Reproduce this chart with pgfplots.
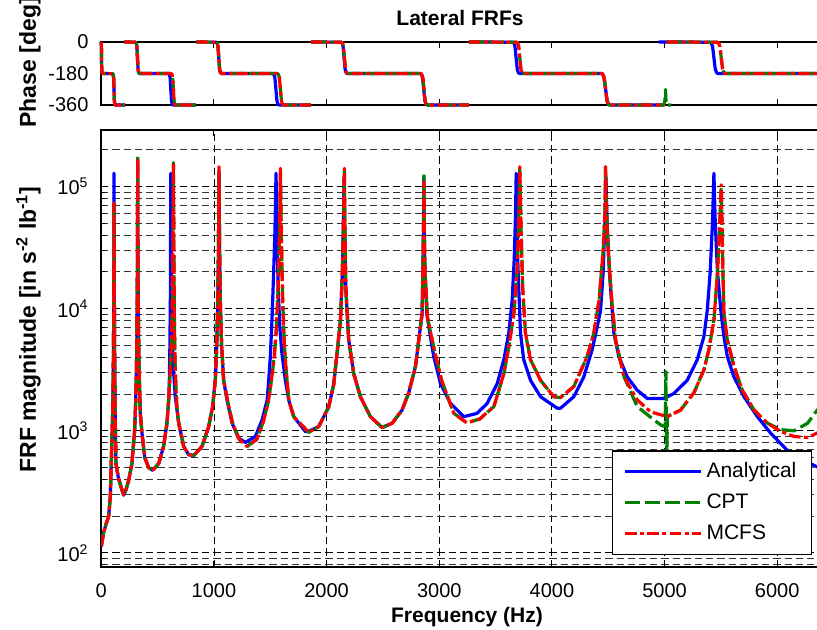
\documentclass[border=0pt]{standalone}
\usepackage{fontspec}
\setmainfont{Liberation Sans}
\usepackage{pgfplots}
\pgfplotsset{compat=1.18}
\definecolor{mgreen}{rgb}{0,0.5,0}
\pgfplotsset{
  analytical/.style={blue, line width=1.6pt, line join=round, solid},
  cpt/.style={mgreen, line width=1.6pt, line join=round, dash pattern=on 7.5pt off 2.5pt},
  mcfs/.style={red, line width=1.6pt, line join=round, dash pattern=on 5.8pt off 1.7pt on 2pt off 1.7pt},
  every axis/.append style={
    scale only axis, width=363.3pt, xmin=0, xmax=6450,
    tick align=inside,
    axis line style={line width=0.9pt},
    every tick/.style={black, line width=0.5pt},
    major tick length=3pt, minor tick length=1.8pt,
    tick label style={font=\fontsize{10}{12}\selectfont},
    yticklabel style={xshift=-2.9pt},
    xlabel style={font=\bfseries\fontsize{10.5}{12.6}\selectfont},
    ylabel style={font=\bfseries\fontsize{11.5}{13.8}\selectfont, inner sep=0pt},
    title style={font=\bfseries\fontsize{10.5}{12.6}\selectfont},
  },
}
\begin{document}
\begin{tikzpicture}
% ---------------- magnitude ----------------
\begin{axis}[
  at={(0,0)}, anchor=south west, height=218.35pt,
  ymode=log, ymin=77, ymax=291000,
  xtick={0,1000,2000,3000,4000,5000,6000},
  xticklabels={0,1000,2000,3000,4000,5000,6000},
  xticklabel style={yshift=-5pt},
  ytick={100,1000,10000,100000},
  yticklabels={10\textsuperscript{2},10\textsuperscript{3},10\textsuperscript{4},10\textsuperscript{5}},
  minor ytick={80,90,200,300,400,500,600,700,800,900,2000,3000,4000,5000,6000,7000,8000,9000,20000,30000,40000,50000,60000,70000,80000,90000,200000},
  xmajorgrids, ymajorgrids, yminorgrids,
  major grid style={black, line width=0.45pt, dash pattern=on 3.6pt off 2pt},
  minor grid style={black!80, line width=0.45pt, dash pattern=on 3.6pt off 2pt},
  xlabel={Frequency (Hz)},
  xlabel style={at={(axis description cs:0.5033,0)}, anchor=base, yshift=-27.8pt},
  ylabel={FRF magnitude [in s\textsuperscript{-2} lb\textsuperscript{-1}]},
  ylabel style={at={(axis description cs:-0.0899,0.2146)}, anchor=base west},
  legend style={at={(axis description cs:0.9781,0.0268)}, anchor=south east,
    draw=black, line width=0.6pt, fill=white, inner xsep=5.5pt, inner ysep=3.6pt,
    row sep=2pt, nodes={inner sep=2pt, text depth=0.2em, text height=0.75em},
    font=\fontsize{10.5}{12.6}\selectfont},
  legend cell align=left,
  legend image code/.code={\draw[#1] (0pt,0pt) -- (38pt,0pt);},
]
\addplot[analytical] coordinates {
(0,113) (20,146) (45,175) (65,198) (80,289) (89,571) (100,1300) (106,2800) (109,6000) (111,15000) (112,40000) (113,128500) (114,45000) (116,12000) (119,3500) (123,1400) (130,537) (150,420) (170,360) (198,297) (220,330) (243,394) (272,537) (296,1018) (305,1700) (312,3200) (317,7000) (320,18000) (322,60000) (323,150000) (324,60000) (326,20000) (330,7000) (336,3000) (346,1396) (361,960) (385,608) (420,499) (456,475) (509,537) (553,745) (583,1154) (598,1780) (604,2600) (609,5000) (613,12000) (615,40000) (617,128500) (619,40000) (623,12000) (630,5500) (640,3200) (657,1893) (687,1154) (731,745) (775,638) (820,626) (894,745) (953,1082) (988,1574) (1012,2590) (1025,5000) (1033,10000) (1039,25000) (1043,70000) (1045,130000) (1047,70000) (1051,25000) (1058,10000) (1068,5000) (1086,2590) (1116,1780) (1161,1154) (1219,871) (1279,803) (1368,898) (1427,1226) (1472,1780) (1486,2590) (1500,4000) (1515,8000) (1530,20000) (1542,45000) (1551,128500) (1560,40000) (1570,15000) (1585,7000) (1602,4400) (1634,2590) (1664,1780) (1708,1304) (1812,986) (1841,990) (1930,1082) (2019,1574) (2063,2400) (2093,4340) (2123,8050) (2140,20000) (2150,60000) (2155,120000) (2160,50000) (2170,15000) (2196,5545) (2241,2930) (2300,1900) (2389,1304) (2493,1062) (2582,1154) (2670,1478) (2729,2050) (2789,3370) (2818,5545) (2848,9140) (2856,25000) (2861,60000) (2863,120000) (2866,50000) (2872,20000) (2890,9000) (2920,6000) (2951,4060) (3011,2430) (3099,1675) (3218,1304) (3336,1390) (3425,1675) (3514,2430) (3573,3815) (3617,6300) (3647,11700) (3665,25000) (3677,60000) (3683,128500) (3690,45000) (3700,20000) (3721,6300) (3750,3815) (3810,2590) (3899,1900) (4047,1530) (4076,1530) (4194,1900) (4283,2760) (4357,4600) (4402,7110) (4432,9700) (4455,20000) (4470,50000) (4480,120000) (4490,50000) (4510,20000) (4550,6300) (4594,4060) (4669,2760) (4757,2150) (4846,1840) (4900,1840) (4994,1840) (5083,2020) (5201,2590) (5290,3815) (5349,5900) (5379,9700) (5405,20000) (5425,50000) (5438,128500) (5450,50000) (5470,20000) (5500,9500) (5527,5900) (5557,4060) (5616,2760) (5705,1900) (5824,1304) (5942,955) (6090,690) (6237,572) (6356,505) (6450,460)
};
\addplot[cpt] coordinates {
(0,113) (20,146) (45,175) (65,198) (80,289) (89,571) (100,1300) (106,2800) (109,6000) (111,15000) (112,35000) (113,73000) (114,35000) (116,12000) (119,3500) (123,1400) (130,537) (150,420) (170,360) (198,297) (220,330) (243,394) (272,537) (296,1018) (305,1700) (312,3200) (317,7000) (320,18000) (322,60000) (323,181000) (324,60000) (326,20000) (330,7000) (336,3000) (346,1396) (361,960) (385,608) (420,499) (456,475) (509,537) (553,745) (583,1154) (598,1780) (610,2800) (622,5000) (630,10000) (636,35000) (640,157000) (644,35000) (648,10000) (652,5000) (657,3000) (670,1600) (687,1154) (731,745) (775,638) (820,626) (894,745) (953,1082) (988,1574) (1012,2590) (1025,5000) (1033,10000) (1039,25000) (1043,70000) (1045,140000) (1047,70000) (1051,25000) (1058,10000) (1068,5000) (1086,2590) (1120,1780) (1165,1154) (1225,850) (1294,745) (1380,850) (1440,1200) (1485,1780) (1510,2590) (1535,4000) (1555,7000) (1570,15000) (1582,40000) (1590,135000) (1598,40000) (1610,12000) (1625,5000) (1640,3200) (1664,1780) (1708,1304) (1841,970) (1930,1082) (2019,1574) (2063,2400) (2093,4340) (2123,8050) (2140,20000) (2152,60000) (2158,135000) (2162,50000) (2170,15000) (2196,5545) (2241,2930) (2300,1900) (2389,1304) (2493,1062) (2582,1154) (2670,1478) (2729,2050) (2789,3370) (2818,5545) (2848,9140) (2856,25000) (2861,50000) (2864,128500) (2867,45000) (2874,20000) (2895,8500) (2960,4400) (3020,2600) (3129,1390) (3245,1160) (3360,1250) (3485,1580) (3573,2930) (3617,4850) (3662,9040) (3690,20000) (3705,50000) (3715,140000) (3725,50000) (3740,15000) (3765,6300) (3810,3815) (3899,2590) (4017,1900) (4076,1870) (4194,2300) (4313,4060) (4372,6300) (4420,12000) (4455,30000) (4470,60000) (4476,145500) (4485,60000) (4500,30000) (4530,12000) (4565,5545) (4641,2760) (4757,1580) (4905,1230) (4964,1120) (4990,1090) (5005,1100) (5012,3050) (5016,1200) (5020,420) (5024,1300) (5040,1330) (5142,1478) (5261,2050) (5349,3150) (5393,4600) (5438,8050) (5470,20000) (5490,50000) (5503,100000) (5510,50000) (5518,20000) (5527,9140) (5557,5545) (5616,3370) (5690,2150) (5794,1478) (5913,1154) (6032,1020) (6150,1000) (6268,1150) (6356,1480) (6450,1900)
};
\addplot[mcfs] coordinates {
(0,113) (20,146) (45,175) (65,198) (80,289) (89,571) (100,1300) (106,2800) (109,6000) (111,15000) (112,35000) (113,73500) (114,35000) (116,12000) (119,3500) (123,1400) (130,537) (150,420) (170,360) (198,297) (220,330) (243,394) (272,537) (296,1018) (305,1700) (312,3200) (317,7000) (320,18000) (322,60000) (323,172000) (324,60000) (326,20000) (330,7000) (336,3000) (346,1396) (361,960) (385,608) (420,499) (456,475) (509,537) (553,745) (583,1154) (598,1780) (610,2800) (622,5000) (630,10000) (636,35000) (640,157000) (644,35000) (648,10000) (652,5000) (657,3000) (670,1600) (687,1154) (731,745) (775,638) (820,626) (894,745) (953,1082) (988,1574) (1012,2590) (1025,5000) (1033,10000) (1039,25000) (1043,70000) (1045,145500) (1047,70000) (1051,25000) (1058,10000) (1068,5000) (1086,2590) (1120,1780) (1165,1154) (1225,850) (1294,745) (1380,850) (1440,1200) (1485,1780) (1510,2590) (1535,4000) (1555,7000) (1570,15000) (1582,40000) (1590,141000) (1598,40000) (1610,12000) (1625,5000) (1640,3200) (1664,1780) (1708,1304) (1841,970) (1930,1082) (2019,1574) (2063,2400) (2093,4340) (2123,8050) (2140,20000) (2152,60000) (2158,141000) (2162,50000) (2170,15000) (2196,5545) (2241,2930) (2300,1900) (2389,1304) (2493,1062) (2582,1154) (2670,1478) (2729,2050) (2789,3370) (2818,5545) (2848,9140) (2856,25000) (2861,50000) (2864,110000) (2867,45000) (2874,20000) (2895,8500) (2960,4400) (3020,2600) (3129,1390) (3245,1160) (3360,1250) (3485,1580) (3573,2930) (3617,4850) (3662,9040) (3690,20000) (3705,50000) (3715,145500) (3725,50000) (3740,15000) (3765,6300) (3810,3815) (3899,2590) (4017,1900) (4076,1870) (4194,2300) (4313,4060) (4372,6300) (4420,12000) (4455,30000) (4470,60000) (4476,145500) (4485,60000) (4500,30000) (4530,12000) (4565,5545) (4641,2760) (4757,1790) (4876,1430) (5024,1304) (5142,1478) (5261,2050) (5349,3150) (5393,4600) (5438,8050) (5470,20000) (5490,50000) (5503,103500) (5510,50000) (5518,20000) (5527,9140) (5557,5545) (5616,3370) (5690,2150) (5794,1478) (5913,1154) (6032,986) (6150,898) (6268,880) (6356,960) (6450,1050)
};
\legend{Analytical,CPT,MCFS}
\end{axis}
% ---------------- phase ----------------
\begin{axis}[
  at={(0,230.85pt)}, anchor=south west, height=31.5pt,
  ymin=-360, ymax=0, clip=false, unbounded coords=jump,
  xtick={0,1000,2000,3000,4000,5000,6000}, xticklabels={},
  ytick={-360,-180,0}, yticklabels={-360,-180,0},
  title={Lateral FRFs},
  title style={at={(axis description cs:0.4937,1)}, anchor=base, yshift=2.5pt},
  ylabel={Phase [deg]},
  ylabel style={at={(axis description cs:-0.0899,-0.365)}, anchor=base west},
]
\addplot[analytical] coordinates {
(0,0) (1,-40) (3,-140) (6,-175) (15,-180) (100,-181) (106,-186) (110,-210) (113,-270) (116,-335) (120,-357) (128,-360) (212,-360) (212,nan)
(204,0) (300,-1) (310,-5) (316,-25) (321,-90) (326,-155) (332,-176) (342,-180) (595,-180) (605,-184) (611,-205) (617,-270) (623,-335) (629,-356) (640,-360) (840,-360) (840,nan)
(844,0) (1018,-1) (1028,-5) (1036,-25) (1043,-90) (1050,-155) (1058,-176) (1068,-180) (1520,-180) (1532,-184) (1541,-205) (1550,-270) (1559,-335) (1568,-356) (1580,-360) (1860,-360) (1860,nan)
(1862,0) (2125,-1) (2137,-5) (2146,-25) (2155,-90) (2164,-155) (2173,-176) (2185,-180) (2830,-180) (2842,-184) (2852,-205) (2862,-270) (2872,-335) (2882,-356) (2895,-360) (3262,-360) (3262,nan)
(3262,0) (3650,-1) (3662,-5) (3672,-25) (3682,-90) (3692,-155) (3702,-176) (3715,-180) (4440,-180) (4452,-184) (4464,-205) (4477,-270) (4490,-335) (4502,-356) (4515,-360) (4990,-360) (4990,nan)
(4948,0) (5400,-1) (5414,-5) (5426,-25) (5438,-90) (5450,-155) (5462,-176) (5476,-180) (6450,-180)
};
\addplot[cpt] coordinates {
(0,0) (1,-40) (3,-140) (6,-175) (15,-180) (100,-181) (106,-186) (110,-210) (113,-270) (116,-335) (120,-357) (128,-360) (212,-360) (212,nan)
(204,0) (300,-1) (310,-5) (316,-25) (321,-90) (326,-155) (332,-176) (342,-180) (618,-180) (628,-184) (634,-205) (640,-270) (646,-335) (652,-356) (663,-360) (840,-360) (840,nan)
(844,0) (1018,-1) (1028,-5) (1036,-25) (1043,-90) (1050,-155) (1058,-176) (1068,-180) (1560,-180) (1572,-184) (1581,-205) (1590,-270) (1599,-335) (1608,-356) (1620,-360) (1860,-360) (1860,nan)
(1862,0) (2128,-1) (2140,-5) (2149,-25) (2158,-90) (2167,-155) (2176,-176) (2188,-180) (2832,-180) (2844,-184) (2854,-205) (2864,-270) (2874,-335) (2884,-356) (2897,-360) (3262,-360) (3262,nan)
(3262,0) (3683,-1) (3695,-5) (3705,-25) (3715,-90) (3725,-155) (3735,-176) (3748,-180) (4439,-180) (4451,-184) (4463,-205) (4476,-270) (4489,-335) (4501,-356) (4514,-360) (4995,-360) (5004,-330) (5008,-271) (5012,-330) (5016,-360) (5060,-360) (5060,nan)
(5018,0) (5465,-1) (5479,-5) (5491,-25) (5503,-90) (5515,-155) (5527,-176) (5541,-180) (6450,-180)
};
\addplot[mcfs] coordinates {
(0,0) (1,-40) (3,-140) (6,-175) (15,-180) (100,-181) (106,-186) (110,-210) (113,-270) (116,-335) (120,-357) (128,-360) (212,-360) (212,nan)
(204,0) (300,-1) (310,-5) (316,-25) (321,-90) (326,-155) (332,-176) (342,-180) (618,-180) (628,-184) (634,-205) (640,-270) (646,-335) (652,-356) (663,-360) (840,-360) (840,nan)
(844,0) (1018,-1) (1028,-5) (1036,-25) (1043,-90) (1050,-155) (1058,-176) (1068,-180) (1560,-180) (1572,-184) (1581,-205) (1590,-270) (1599,-335) (1608,-356) (1620,-360) (1860,-360) (1860,nan)
(1862,0) (2128,-1) (2140,-5) (2149,-25) (2158,-90) (2167,-155) (2176,-176) (2188,-180) (2832,-180) (2844,-184) (2854,-205) (2864,-270) (2874,-335) (2884,-356) (2897,-360) (3262,-360) (3262,nan)
(3262,0) (3683,-1) (3695,-5) (3705,-25) (3715,-90) (3725,-155) (3735,-176) (3748,-180) (4439,-180) (4451,-184) (4463,-205) (4476,-270) (4489,-335) (4501,-356) (4514,-360) (5000,-360) (5000,nan)
(5018,0) (5465,-1) (5479,-5) (5491,-25) (5503,-90) (5515,-155) (5527,-176) (5541,-180) (6450,-180)
};
\end{axis}
\pgfresetboundingbox
\useasboundingbox (-50.65pt,-31.15pt) rectangle (357.85pt,283.35pt);
\end{tikzpicture}
\end{document}
